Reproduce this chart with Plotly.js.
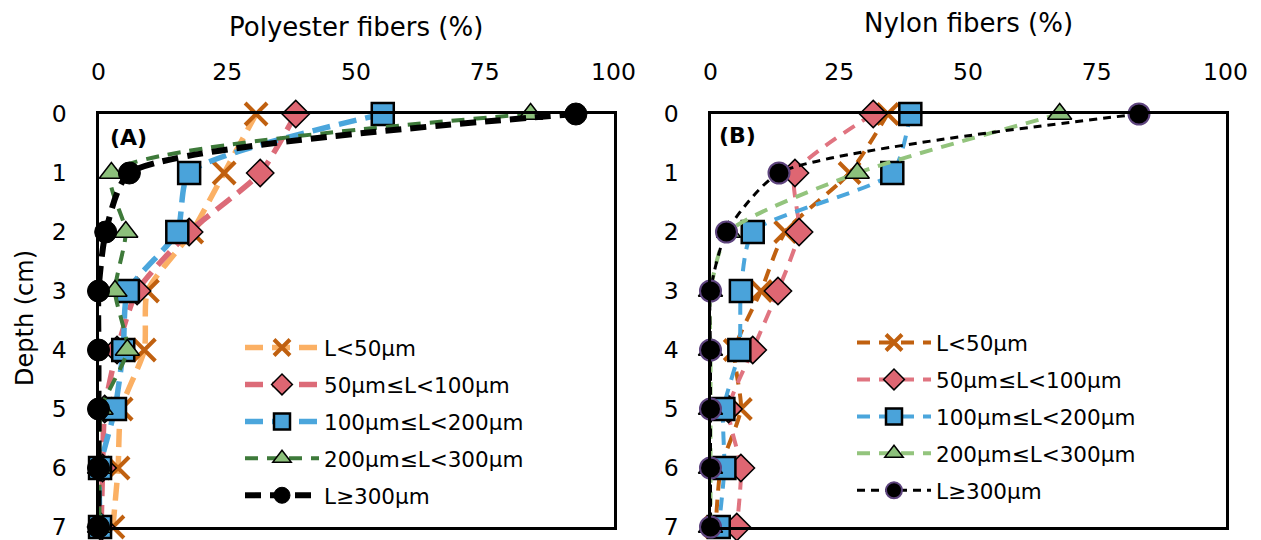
<!DOCTYPE html>
<html>
<head>
<meta charset="utf-8">
<script src="https://cdn.plot.ly/plotly-3.0.1.min.js"></script>
<style>html,body{margin:0;padding:0;background:#fff;}#chart{width:1261px;height:540px;}</style>
</head>
<body>
<div id="chart"></div>
<script>
// Depth (cm)
const depths = [0, 1, 2, 3, 4, 5, 6, 7];
const seriesNames = ['L<50µm', '50µm≤L<100µm', '100µm≤L<200µm', '200µm≤L<300µm', 'L≥300µm'];

// Panel A: Polyester fibers (%)
const polyL50 = [30.6, 24.4, 18.1, 9.5, 8.9, 4.4, 3.8, 2.8];
const poly50to100 = [38.3, 31.4, 17.6, 7.5, 3.6, 1.2, 0.8, 0.5];
const poly100to200 = [55.2, 17.6, 15.3, 5.7, 4.8, 3.2, 0.3, 0.3];
const poly200to300 = [83.9, 2.5, 5.3, 3.2, 5.6, 0.5, 0.2, 0.2];
const polyL300 = [92.7, 6.0, 1.4, 0, 0, 0, 0, 0];

// Panel B: Nylon fibers (%)
const nylonL50 = [34.4, 27.0, 14.5, 9.8, 4.7, 5.9, 2.0, 1.0];
const nylon50to100 = [31.6, 16.4, 17.2, 13.1, 8.2, 3.5, 5.9, 5.1];
const nylon100to200 = [38.8, 35.3, 8.2, 5.9, 5.6, 2.5, 2.7, 1.6];
const nylon200to300 = [67.8, 28.5, 3.5, 0, 0, 0, 0, 0];
const nylonL300 = [83.2, 13.3, 3.1, 0, 0, 0, 0, 0];

const xTicks = [0, 25, 50, 75, 100];

const FONT = '"DejaVu Sans", sans-serif';

const stylesA = [
  {line: '#FBB064', dash: '18px,9px', w: 5.5, sym: 'x-thin', fill: '#C0600F', lc: '#C0600F', lw: 4, size: 22},
  {line: '#DC6B78', dash: '18px,9px', w: 5.5, sym: 'diamond', fill: '#DE6672', lc: '#000', lw: 1.5, size: 21},
  {line: '#4BA6DC', dash: '18px,9px', w: 5.5, sym: 'square', fill: '#4AA3DA', lc: '#000', lw: 2.5, size: 22},
  {line: '#3E7A3A', dash: '13px,9px', w: 4, sym: 'triangle-up', fill: '#8CC07B', lc: '#000', lw: 1.5, size: 21},
  {line: '#000000', dash: '16px,9px', w: 6, sym: 'circle', fill: '#000', lc: '#000', lw: 1, size: 22}
];
const stylesB = [
  {line: '#C0600F', dash: '13px,9px', w: 4, sym: 'x-thin', fill: '#C0600F', lc: '#C0600F', lw: 4, size: 21},
  {line: '#E07480', dash: '13px,9px', w: 4, sym: 'diamond', fill: '#DE6672', lc: '#000', lw: 1.5, size: 21},
  {line: '#4BA6DC', dash: '13px,9px', w: 4, sym: 'square', fill: '#4AA3DA', lc: '#000', lw: 2.5, size: 22},
  {line: '#93C47D', dash: '13px,9px', w: 4, sym: 'triangle-up', fill: '#8CC07B', lc: '#000', lw: 1.5, size: 21},
  {line: '#000000', dash: '8px,6px', w: 3, sym: 'circle', fill: '#000', lc: '#5E447E', lw: 2, size: 21}
];

const dataA = [polyL50, poly50to100, poly100to200, poly200to300, polyL300];
const dataB = [nylonL50, nylon50to100, nylon100to200, nylon200to300, nylonL300];

const traces = [];
function addTraces(vals, styles, xa, ya, legend, prefix) {
  vals.forEach((v, i) => {
    const s = styles[i];
    traces.push({
      x: v, y: depths, xaxis: xa, yaxis: ya,
      type: 'scatter', mode: 'lines+markers',
      name: seriesNames[i], legend: legend, legendgroup: prefix + i,
      cliponaxis: false,
      line: {color: s.line, width: s.w, dash: s.dash, shape: 'spline', smoothing: 0.6},
      marker: {symbol: s.sym, size: s.size, color: s.fill, line: {color: s.lc, width: s.lw}}
    });
  });
}
addTraces(dataA, stylesA, 'x', 'y', 'legend', 'a');
addTraces(dataB, stylesB, 'x2', 'y2', 'legend2', 'b');

const W = 1261, H = 540;
const px = v => v / W;
const py = v => 1 - v / H;

const xCommon = {
  range: [0, 100], side: 'top', tickvals: xTicks, ticktext: xTicks.map(String),
  showgrid: false, zeroline: false, showline: true, mirror: true,
  linecolor: '#000', linewidth: 3, ticks: '', ticklabelstandoff: 22,
  ticklabeloverflow: 'allow',
  tickfont: {family: FONT, size: 23.5, color: '#000'}, fixedrange: true
};
const yCommon = {
  range: [7, 0], tickvals: depths, ticktext: depths.map(String),
  showgrid: false, zeroline: false, showline: true, mirror: true,
  linecolor: '#000', linewidth: 3, ticks: '', ticklabelstandoff: 24,
  ticklabeloverflow: 'allow',
  tickfont: {family: FONT, size: 23.5, color: '#000'}, fixedrange: true
};

const legendCommon = {
  font: {family: FONT, size: 21.5, color: '#000'},
  bgcolor: 'rgba(0,0,0,0)', borderwidth: 0,
  itemwidth: 74, tracegroupgap: 6, traceorder: 'grouped',
  xanchor: 'left', yanchor: 'top', itemclick: false, itemdoubleclick: false
};

const layout = {
  width: W, height: H,
  margin: {l: 0, r: 0, t: 0, b: 0},
  paper_bgcolor: '#fff', plot_bgcolor: '#fff',
  showlegend: true,
  xaxis: Object.assign({}, xCommon, {domain: [px(98.5), px(613.5)], anchor: 'y'}),
  yaxis: Object.assign({}, yCommon, {domain: [py(527), py(114)], anchor: 'x'}),
  xaxis2: Object.assign({}, xCommon, {domain: [px(710.5), px(1225.5)], anchor: 'y2'}),
  yaxis2: Object.assign({}, yCommon, {domain: [py(527), py(114)], anchor: 'x2'}),
  legend: Object.assign({}, legendCommon, {x: px(240), y: py(327)}),
  legend2: Object.assign({}, legendCommon, {x: px(852), y: py(322)}),
  annotations: [
    {text: 'Polyester fibers (%)', xref: 'paper', yref: 'paper', x: px(356), y: py(27), showarrow: false,
     xanchor: 'center', yanchor: 'middle', font: {family: FONT, size: 26, color: '#000'}},
    {text: 'Nylon fibers (%)', xref: 'paper', yref: 'paper', x: px(968), y: py(23), showarrow: false,
     xanchor: 'center', yanchor: 'middle', font: {family: FONT, size: 26, color: '#000'}},
    {text: 'Depth (cm)', xref: 'paper', yref: 'paper', x: px(25), y: py(318), showarrow: false, textangle: -90,
     xanchor: 'center', yanchor: 'middle', font: {family: FONT, size: 24, color: '#000'}},
    {text: '<b>(A)</b>', xref: 'paper', yref: 'paper', x: px(128), y: py(137), showarrow: false,
     xanchor: 'center', yanchor: 'middle', font: {family: FONT, size: 22, color: '#000'}},
    {text: '<b>(B)</b>', xref: 'paper', yref: 'paper', x: px(737), y: py(136), showarrow: false,
     xanchor: 'center', yanchor: 'middle', font: {family: FONT, size: 22, color: '#000'}}
  ]
};

Plotly.newPlot('chart', traces, layout, {displayModeBar: false, staticPlot: true});
</script>
</body>
</html>
